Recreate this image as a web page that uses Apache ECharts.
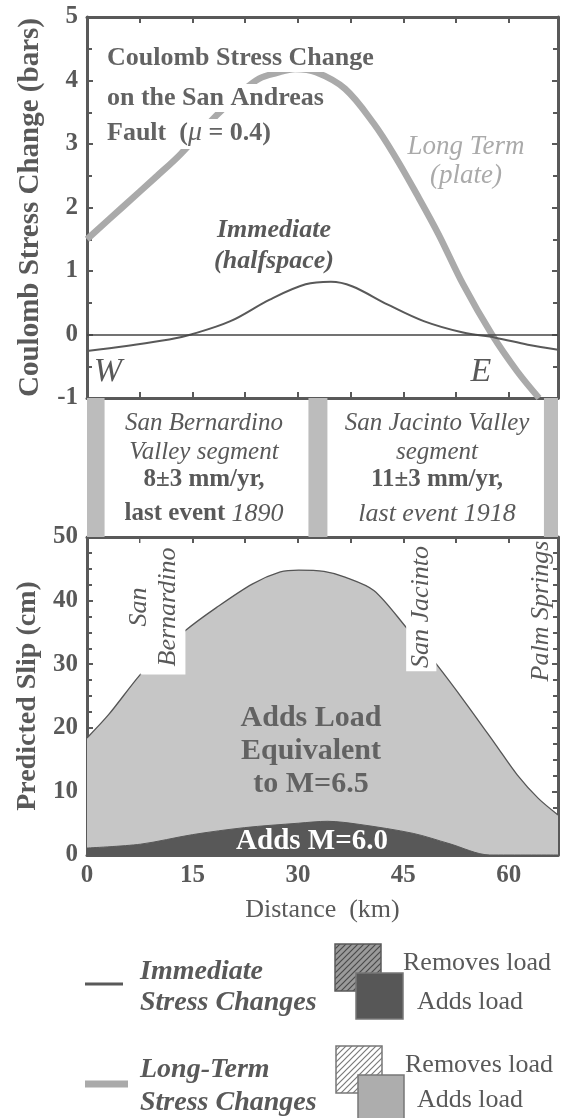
<!DOCTYPE html>
<html><head><meta charset="utf-8">
<script src="https://cdn.jsdelivr.net/npm/echarts@6/dist/echarts.min.js"></script>
<style>html,body{margin:0;padding:0;background:#fff}#c{width:564px;height:1118px}</style>
</head><body><div id="c"></div>
<script>
// ---------- data ----------
const longTermKm     = [0, 5, 10, 13.3, 18.4, 22, 24.5, 27, 29.6, 32.6, 36.7, 40.8, 43.9, 46.9, 50, 53.5, 57.6, 61.2, 64.3];
const longTermStress = [1.5, 2.0, 2.5, 2.84, 3.45, 3.82, 4.03, 4.12, 4.18, 4.13, 3.87, 3.32, 2.79, 2.21, 1.58, 0.79, 0, -0.58, -1.0];
const immediateKm     = [0, 5.6, 11.7, 14.8, 20.4, 26, 31.1, 34.7, 37.7, 42.8, 47.9, 53.5, 58.1, 62.7, 67];
const immediateStress = [-0.26, -0.18, -0.08, 0, 0.21, 0.55, 0.79, 0.83, 0.76, 0.47, 0.21, 0.03, -0.05, -0.16, -0.24];
const slipLongKm = [0, 3.1, 7.6, 11, 14, 18.4, 23.5, 27.5, 30.1, 33.7, 36.7, 40.8, 45.4, 49.7, 54, 58.1, 61.2, 64.2, 67];
const slipLongCm = [18.4, 22.1, 28.4, 32.2, 35.3, 38.9, 42.6, 44.5, 44.8, 44.6, 43.7, 41.6, 35.8, 30.0, 23.7, 17.4, 12.6, 8.9, 6.3];
const slipImmKm = [0, 7.6, 15, 22.4, 30.1, 34.2, 38.8, 46.4, 51.5, 57.3, 67];
const slipImmCm = [1.1, 1.7, 3.2, 4.3, 5.0, 5.3, 4.8, 3.4, 1.8, 0, 0];
const segmentStripsKm = [[0, 2.5], [31.5, 34.2], [65, 67]];
const placeMaskBoxes = [[7.6, 14.0, 28.4], [45.4, 49.7, 28.9]]; // km from, km to, slip (cm) at lower edge
const distanceRange = [0, 67];
const stressRange = [-1, 5];
const slipRange = [0, 50];

// ---------- style ----------
const FONT = '"Liberation Serif","Times New Roman",serif';
const INK = '#595959';
const LIGHT = '#aaaaaa';

const pair = (xs, ys) => xs.map((x, i) => [x, ys[i]]);

function hatch(bg, fg) {
  const c = document.createElement('canvas');
  c.width = 6; c.height = 6;
  const g = c.getContext('2d');
  g.fillStyle = bg; g.fillRect(0, 0, 6, 6);
  g.strokeStyle = fg; g.lineWidth = 1.2;
  g.beginPath();
  g.moveTo(-1, 7); g.lineTo(7, -1);
  g.moveTo(-1, 1); g.lineTo(1, -1);
  g.moveTo(5, 7); g.lineTo(7, 5);
  g.stroke();
  return { image: c, repeat: 'repeat' };
}

const frameLine = { show: true, onZero: false, lineStyle: { color: INK, width: 3 } };
const tickIn = { show: true, inside: true, length: 6, lineStyle: { color: INK, width: 2 } };
const axisLbl = { fontFamily: FONT, fontWeight: 'bold', fontSize: 25, color: INK };

function xAx(grid, pos, showLabels) {
  return {
    type: 'value', gridIndex: grid, position: pos, min: distanceRange[0], max: distanceRange[1], interval: 15,
    axisLine: frameLine, axisTick: tickIn,
    minorTick: { show: true, splitNumber: 2, length: 6, lineStyle: { color: INK, width: 2 } },
    splitLine: { show: false }, minorSplitLine: { show: false },
    axisLabel: showLabels ? Object.assign({ margin: 8, showMaxLabel: false }, axisLbl) : { show: false }
  };
}
function yAx(grid, pos, range, interval, minorSplit, showLabels, name, nameSize) {
  const a = {
    type: 'value', gridIndex: grid, position: pos, min: range[0], max: range[1], interval: interval,
    axisLine: frameLine, axisTick: tickIn,
    minorTick: { show: true, splitNumber: minorSplit, length: 5, lineStyle: { color: INK, width: 2 } },
    splitLine: { show: false }, minorSplitLine: { show: false },
    axisLabel: showLabels ? Object.assign({ margin: 9 }, axisLbl) : { show: false }
  };
  if (name) {
    a.name = name; a.nameLocation = 'middle'; a.nameRotate = 90; a.nameGap = 42;
    a.nameTextStyle = { fontFamily: FONT, fontWeight: 'bold', fontSize: nameSize, color: INK };
  }
  return a;
}

function txt(x, y, text, font, fill, extra) {
  return Object.assign({ type: 'text', x: x, y: y, z: 100, style: Object.assign({
    text: text, font: font, fill: fill, align: 'center', verticalAlign: 'middle'
  }, extra && extra.style || {}) }, extra && extra.el || {});
}

const chart = echarts.init(document.getElementById('c'), null, { renderer: 'canvas' });

const B = 'bold ';
const TITLE = '#636363';
const graphic = [
  // white backing behind the third title line (hides the long-term curve, as in the original)
  { type: 'rect', z: 99, shape: { x: 103, y: 119, width: 170, height: 30 }, style: { fill: '#fff' } },
  txt(105, 58, 'Coulomb Stress Change', B + '26px ' + FONT, TITLE, { style: { align: 'left', backgroundColor: '#fff', padding: [2, 2, 0, 2] } }),
  txt(105, 98, 'on the San Andreas', B + '26px ' + FONT, TITLE, { style: { align: 'left', backgroundColor: '#fff', padding: [2, 2, 0, 2] } }),
  { type: 'text', x: 107, y: 133, z: 100, style: {
      text: '{a|Fault  (}{m|μ}{a| = 0.4)}', align: 'left', verticalAlign: 'middle',
      rich: {
        a: { font: B + '26px ' + FONT, fill: TITLE, color: TITLE },
        m: { font: 'italic 28px ' + FONT, fill: TITLE, color: TITLE }
      } } },
  txt(466, 147, 'Long Term', 'italic 27px ' + FONT, LIGHT),
  txt(466, 176, '(plate)', 'italic 27px ' + FONT, LIGHT),
  txt(274, 230, 'Immediate', 'italic bold 26px ' + FONT, INK),
  txt(274, 261, '(halfspace)', 'italic bold 26px ' + FONT, INK),
  txt(108, 372, 'W', 'italic 34px ' + FONT, INK),
  txt(481, 372, 'E', 'italic 34px ' + FONT, INK),
  // segment boxes
  txt(204, 423, 'San Bernardino', 'italic 25px ' + FONT, INK),
  txt(204, 452, 'Valley segment', 'italic 25px ' + FONT, INK),
  txt(204, 480, '8±3 mm/yr,', B + '25px ' + FONT, INK),
  { type: 'text', x: 204, y: 514, z: 100, style: { text: '{b|last event }{i|1890}', align: 'center', verticalAlign: 'middle',
      rich: { b: { font: B + '25px ' + FONT, fill: INK, color: INK }, i: { font: 'italic 26px ' + FONT, fill: INK, color: INK } } } },
  txt(437, 423, 'San Jacinto Valley', 'italic 25px ' + FONT, INK),
  txt(437, 452, 'segment', 'italic 25px ' + FONT, INK),
  txt(437, 480, '11±3 mm/yr,', B + '25px ' + FONT, INK),
  txt(437, 514, 'last event 1918', 'italic 26px ' + FONT, INK),
  // lower panel labels
  txt(139, 607, 'San', 'italic 26px ' + FONT, INK, { el: { rotation: Math.PI / 2 } }),
  txt(168, 607, 'Bernardino', 'italic 26px ' + FONT, INK, { el: { rotation: Math.PI / 2 } }),
  txt(421, 607, 'San Jacinto', 'italic 26px ' + FONT, INK, { el: { rotation: Math.PI / 2 } }),
  txt(541, 611, 'Palm Springs', 'italic 26px ' + FONT, INK, { el: { rotation: Math.PI / 2 } }),
  txt(311, 718, 'Adds Load', B + '30px ' + FONT, '#626262'),
  txt(311, 751, 'Equivalent', B + '30px ' + FONT, '#626262'),
  txt(311, 784, 'to M=6.5', B + '30px ' + FONT, '#626262'),
  txt(312, 842, 'Adds M=6.0', B + '29px ' + FONT, '#ffffff'),
  // legend
  { type: 'line', z: 100, shape: { x1: 85, y1: 984, x2: 123, y2: 984 }, style: { stroke: INK, lineWidth: 3 } },
  txt(140, 972, 'Immediate', 'italic bold 28px ' + FONT, INK, { style: { align: 'left' } }),
  txt(140, 1003, 'Stress Changes', 'italic bold 28px ' + FONT, INK, { style: { align: 'left' } }),
  { type: 'rect', z: 100, shape: { x: 335, y: 944, width: 46, height: 47 }, style: { fill: hatch('#9a9a9a', '#4a4a4a'), stroke: INK, lineWidth: 1.5 } },
  { type: 'rect', z: 101, shape: { x: 356, y: 973, width: 47, height: 46 }, style: { fill: '#575757', stroke: '#777', lineWidth: 1.5 } },
  txt(403, 963, 'Removes load', '26px ' + FONT, INK, { style: { align: 'left' } }),
  txt(470, 1002, 'Adds load', '26px ' + FONT, INK),
  { type: 'line', z: 100, shape: { x1: 85, y1: 1084, x2: 128, y2: 1084 }, style: { stroke: LIGHT, lineWidth: 7 } },
  txt(140, 1070, 'Long-Term', 'italic bold 28px ' + FONT, INK, { style: { align: 'left' } }),
  txt(140, 1103, 'Stress Changes', 'italic bold 28px ' + FONT, INK, { style: { align: 'left' } }),
  { type: 'rect', z: 100, shape: { x: 336, y: 1046, width: 46, height: 47 }, style: { fill: hatch('#ffffff', '#7a7a7a'), stroke: '#777', lineWidth: 1.5 } },
  { type: 'rect', z: 101, shape: { x: 358, y: 1075, width: 46, height: 46 }, style: { fill: '#adadad', stroke: '#777', lineWidth: 1.5 } },
  txt(405, 1065, 'Removes load', '26px ' + FONT, INK, { style: { align: 'left' } }),
  txt(470, 1100, 'Adds load', '26px ' + FONT, INK)
];

const option = {
  animation: false,
  backgroundColor: '#fff',
  grid: [
    { left: 87, top: 17, width: 471, height: 381 },
    { left: 87, top: 398, width: 471, height: 139 },
    { left: 87, top: 537, width: 471, height: 318 }
  ],
  xAxis: [
    xAx(0, 'bottom', false), xAx(0, 'top', false),
    { type: 'value', gridIndex: 1, min: distanceRange[0], max: distanceRange[1], show: false },
    Object.assign(xAx(2, 'bottom', true), { name: 'Distance  (km)', nameLocation: 'middle', nameGap: 42,
      nameTextStyle: { fontFamily: FONT, fontSize: 26, color: INK } }),
    xAx(2, 'top', false)
  ],
  yAxis: [
    yAx(0, 'left', stressRange, 1, 2, true, 'Coulomb Stress Change (bars)', 29),
    yAx(0, 'right', stressRange, 1, 2, false),
    { type: 'value', gridIndex: 1, min: 0, max: 1, show: false },
    yAx(2, 'left', slipRange, 10, 4, true, 'Predicted Slip (cm)', 28),
    yAx(2, 'right', slipRange, 10, 4, false)
  ],
  series: [
    { type: 'line', name: 'Long-Term Stress Changes', xAxisIndex: 0, yAxisIndex: 0, data: pair(longTermKm, longTermStress),
      smooth: 0.35, showSymbol: false, lineStyle: { color: LIGHT, width: 6.5 }, z: 2 },
    { type: 'line', name: 'Immediate Stress Changes', xAxisIndex: 0, yAxisIndex: 0, data: pair(immediateKm, immediateStress),
      smooth: 0.35, showSymbol: false, lineStyle: { color: INK, width: 2 }, z: 3,
      markLine: { silent: true, symbol: 'none', label: { show: false }, lineStyle: { color: '#444', width: 1.5, type: 'solid' },
        data: [{ yAxis: 0 }] } },
    { type: 'custom', xAxisIndex: 2, yAxisIndex: 2, data: segmentStripsKm, z: 2,
      renderItem: function (params, api) {
        const p0 = api.coord([api.value(0), 1]);
        const p1 = api.coord([api.value(1), 0]);
        return { type: 'rect', shape: { x: p0[0], y: p0[1], width: p1[0] - p0[0], height: p1[1] - p0[1] }, style: { fill: '#bcbcbc' } };
      } },
    { type: 'line', name: 'Long-term slip', xAxisIndex: 3, yAxisIndex: 3, data: pair(slipLongKm, slipLongCm),
      smooth: 0.3, showSymbol: false, lineStyle: { color: '#555', width: 1.3 }, areaStyle: { color: '#c6c6c6', opacity: 1 }, z: 2 },
    { type: 'custom', xAxisIndex: 3, yAxisIndex: 3, data: placeMaskBoxes, z: 4,
      renderItem: function (params, api) {
        const p0 = api.coord([api.value(0), slipRange[1]]);
        const p1 = api.coord([api.value(1), api.value(2)]);
        return { type: 'rect', shape: { x: p0[0], y: p0[1] + 2, width: p1[0] - p0[0], height: p1[1] - p0[1] - 2 }, style: { fill: '#fff' } };
      } },
    { type: 'line', name: 'Immediate slip', xAxisIndex: 3, yAxisIndex: 3, data: pair(slipImmKm, slipImmCm),
      smooth: 0.3, showSymbol: false, lineStyle: { color: '#585858', width: 1 }, areaStyle: { color: '#585858', opacity: 1 }, z: 5 }
  ],
  graphic: graphic
};
chart.setOption(option);
</script></body></html>
